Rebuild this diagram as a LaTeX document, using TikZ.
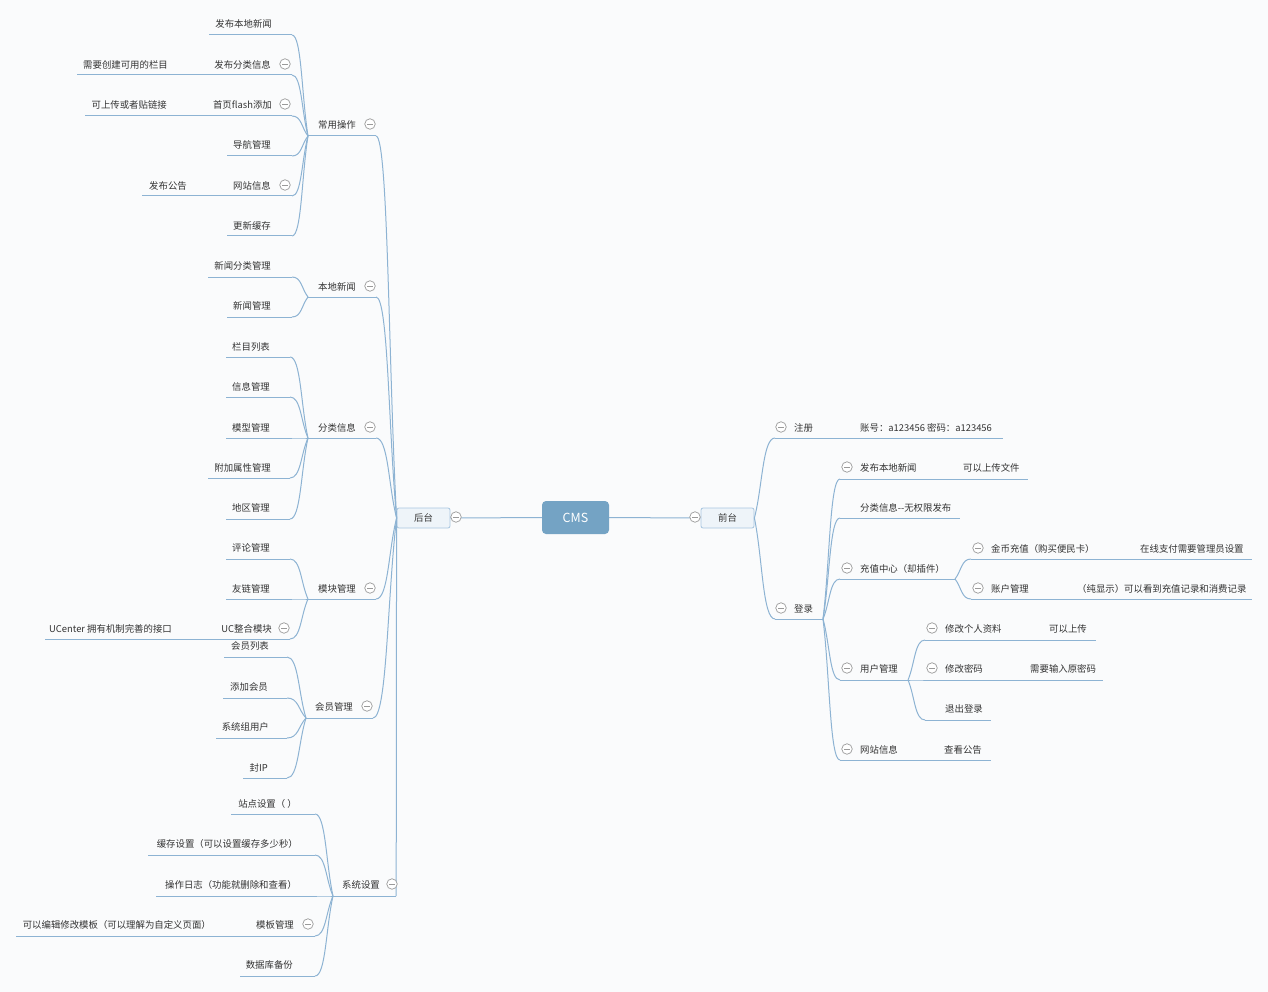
\documentclass[tikz,border=0pt]{standalone}
\usepackage{fontspec}
\newfontfamily\cjk{Noto Sans CJK SC}
\usetikzlibrary{calc}

\definecolor{paper}{HTML}{FAFBFC}
\definecolor{mapline}{HTML}{8DB3D3}
\definecolor{maptext}{HTML}{333333}
\definecolor{rootfill}{HTML}{74A3C4}
\definecolor{boxfill}{HTML}{EEF4F9}
\definecolor{boxline}{HTML}{A8C6E0}
\definecolor{foldgray}{HTML}{9A9A9A}

\begin{document}
\begin{tikzpicture}[x=1pt, y=-1pt,
    every node/.style={font=\cjk\fontsize{9.4}{11}\selectfont, text=maptext, inner sep=0pt},
    topic/.style={draw=boxline, fill=boxfill, rounded corners=2pt, minimum width=53pt, minimum height=20pt, line width=0.8pt},
    central/.style={fill=rootfill, rounded corners=4pt, minimum width=67pt, minimum height=33pt, text=white, font=\cjk\fontsize{12.5}{14}\selectfont},
    fold/.style={circle, draw=foldgray, fill=white, minimum size=10.5pt, line width=0.7pt,
        path picture={\draw[foldgray, line width=0.7pt] ([xshift=-3pt]path picture bounding box.center) -- ([xshift=3pt]path picture bounding box.center);}},
    branch/.style={mapline, line width=1pt},
    link/.style={branch, to path={.. controls ($(\tikztostart)!0.4!(\tikztotarget)$) and ($(\tikztotarget)!0.6!(\tikztotarget -| \tikztostart)$) .. (\tikztotarget)}}]

  \fill[paper] (0,0) rectangle (1268,992);
  \useasboundingbox (0,0) rectangle (1268,992);

  % central topic and the two main branches
  \node[central] (cms) at (575.5,517.5) {CMS};
  \node[topic] (back) at (423.5,518) {后台};
  \node[topic] (front) at (727.5,518) {前台};
  \coordinate (back-p) at (back.west);
  \coordinate (front-p) at (front.east);
  \draw[branch] (cms) -- (back);
  \draw[branch] (cms) -- (front);

  % underlines of the topics
  \foreach \n/\a/\b/\y in {ops/308/376/136, ops1/209/292/35, ops2/77/292/75, ops3/85/292/116,
      ops4/227/292/156, ops5/142/292/196, ops6/227/292/236,
      news/308/376/297, news1/208/292/277, news2/227/292/317,
      cat/308/376/438, cat1/226/290/357, cat2/226/290/397, cat3/226/290/438, cat4/208/290/478, cat5/226/290/519,
      mods/308/376/599, mods1/226/290/559, mods2/226/290/599, mods3/45/290/639,
      mem/306/373/718, mem1/224/287/657, mem2/223/287/698, mem3/216/287/738, mem4/243/287/778,
      sys/333/396/896, sys1/231/315/814, sys2/148/315/855, sys3/156/315/896, sys4/16/315/936, sys5/240/315/976,
      reg/775/1003/438, login/775/823/619,
      lg1/840/1028/479, lg2/840/960/518, lg3/840/955/579, lg3a/971/1252/559, lg3b/971/1252/599,
      lg4/840/908/680, lg4a/925/1096/640, lg4b/925/1103/680, lg4c/925/991/720, lg5/840/991/760} {
    \coordinate (\n-l) at (\a,\y);
    \coordinate (\n-r) at (\b,\y);
    \draw[branch] (\n-l) -- (\n-r);
  }

  % connectors
  \foreach \p/\k in {ops/6, news/2, cat/5, mods/3, mem/4, sys/5} {
    \draw[link] (back-p) to (\p-r);
    \foreach \i in {1,...,\k}
      \draw[link] (\p-l) to (\p\i-r);
  }
  \draw[link] (front-p) to (reg-l);
  \draw[link] (front-p) to (login-l);
  \foreach \i in {1,...,5}
    \draw[link] (login-r) to (lg\i-l);
  \foreach \i in {a,b}
    \draw[link] (lg3-r) to (lg3\i-l);
  \foreach \i in {a,b,c}
    \draw[link] (lg4-r) to (lg4\i-l);

  % texts, left side
  \foreach \n/\x/\y/\t in {ops/356/124/{常用操作}, ops1/272/23/{发布本地新闻}, ops2/271/64/{发布分类信息},
      ops2x/168/64/{需要创建可用的栏目}, ops3/272/104/{首页flash添加}, ops3x/167/104/{可上传或者贴链接},
      ops4/271/144/{导航管理}, ops5/271/185/{网站信息}, ops5x/187/185/{发布公告}, ops6/271/225/{更新缓存},
      news/356/286/{本地新闻}, news1/271/265/{新闻分类管理}, news2/271/305/{新闻管理},
      cat/356/427/{分类信息}, cat1/270/346/{栏目列表}, cat2/270/386/{信息管理}, cat3/270/427/{模型管理},
      cat4/271/467/{附加属性管理}, cat5/270/507/{地区管理},
      mods/356/588/{模块管理}, mods1/270/547/{评论管理}, mods2/270/588/{友链管理}, mods3/272/628/{UC整合模块},
      mods3x/172/628/{UCenter 拥有机制完善的接口},
      mem/353/706/{会员管理}, mem1/269/645/{会员列表}, mem2/268/686/{添加会员}, mem3/269/726/{系统组用户}, mem4/268/767/{封IP},
      sys/380/884/{系统设置}, sys1/297/803/{站点设置（ ）}, sys2/298/843/{缓存设置（可以设置缓存多少秒）},
      sys3/297/884/{操作日志（功能就删除和查看）}, sys4/294/924/{模板管理},
      sys4x/211/924/{可以编辑修改模板（可以理解为自定义页面）}, sys5/293/964/{数据库备份}}
    \node[anchor=east] (\n) at (\x,\y+1) {\t};

  % texts, right side
  \foreach \n/\x/\y/\t in {reg/794/427/{注册}, regx/860/427/{账号：a123456 密码：a123456}, login/794/608/{登录},
      lg1/860/467/{发布本地新闻}, lg1x/963/467/{可以上传文件}, lg2/860/507/{分类信息-{}-无权限发布},
      lg3/860/568/{充值中心（却插件）}, lg3a/991/548/{金币充值（购买便民卡）}, lg3ax/1140/548/{在线支付需要管理员设置},
      lg3b/991/588/{账户管理}, lg3bx/1077/588/{（纯显示）可以看到充值记录和消费记录},
      lg4/860/668/{用户管理}, lg4a/945/628/{修改个人资料}, lg4ax/1049/628/{可以上传},
      lg4b/945/668/{修改密码}, lg4bx/1030/668/{需要输入原密码}, lg4c/945/708/{退出登录},
      lg5/860/749/{网站信息}, lg5x/944/749/{查看公告}}
    \node[anchor=west] (\n) at (\x,\y+1) {\t};

  % collapse markers
  \foreach \x/\y [count=\i] in {456/517, 695/517, 370/124, 370/286, 370/427, 370/588, 367/706, 392/884,
      285/64, 285/104, 285/185, 284/628, 308/924,
      781/427, 781/608, 847/467, 847/568, 847/668, 847/749, 978/548, 978/588, 932/628, 932/668}
    \node[fold] (fold\i) at (\x,\y) {};
\end{tikzpicture}
\end{document}
